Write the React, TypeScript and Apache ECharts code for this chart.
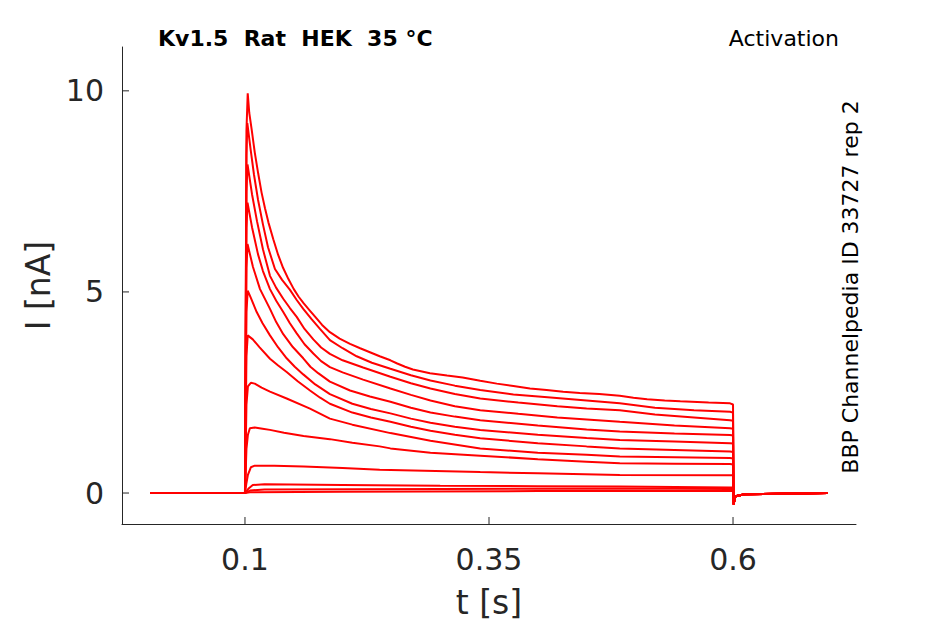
import React, { useEffect, useRef } from "react";
import * as echarts from "echarts";

// ---- data (t in s, I in nA) ----
const PRE: number[][] = [[0.003, 0], [0.1, 0]];
const POST: number[][] = [[0.6005, -0.28], [0.6025, -0.08], [0.612, -0.03], [0.697, 0]];

const T1 = [[0.1015, 9.0], [0.1028, 9.94], [0.1044, 9.45], [0.1069, 9.03], [0.110, 8.47], [0.1135, 7.95], [0.117, 7.47], [0.1205, 7.08], [0.124, 6.73], [0.129, 6.31], [0.134, 5.92], [0.139, 5.6], [0.1445, 5.32], [0.150, 5.07], [0.155, 4.88], [0.160, 4.72], [0.166, 4.55], [0.172, 4.38], [0.179, 4.18], [0.187, 4.0], [0.197, 3.84], [0.2076, 3.71], [0.218, 3.6], [0.228, 3.5], [0.238, 3.4], [0.249, 3.3], [0.256, 3.22], [0.264, 3.14], [0.272, 3.07], [0.2895, 2.98], [0.307, 2.92], [0.323, 2.87], [0.341, 2.79], [0.358, 2.72], [0.375, 2.66], [0.392, 2.6], [0.409, 2.56], [0.426, 2.52], [0.443, 2.49], [0.463, 2.46], [0.484, 2.42], [0.498, 2.37], [0.512, 2.33], [0.53, 2.3], [0.546, 2.28], [0.575, 2.25], [0.597, 2.23], [0.6, 2.2]];
const T2 = [[0.1015, 8.4], [0.1024, 9.2], [0.1058, 8.54], [0.1092, 7.92], [0.1133, 7.3], [0.1184, 6.68], [0.1236, 6.11], [0.1307, 5.57], [0.138, 5.3], [0.1461, 5.05], [0.153, 4.8], [0.1597, 4.58], [0.168, 4.33], [0.1768, 4.08], [0.187, 3.8], [0.2, 3.6], [0.2144, 3.4], [0.23, 3.24], [0.249, 3.09], [0.27, 2.93], [0.29, 2.8], [0.315, 2.67], [0.341, 2.56], [0.375, 2.45], [0.41, 2.38], [0.45, 2.3], [0.484, 2.23], [0.52, 2.12], [0.56, 2.06], [0.597, 2.02], [0.6, 2.0]];
const T3 = [[0.1015, 7.5], [0.1026, 8.17], [0.1072, 7.43], [0.1123, 6.76], [0.1184, 6.06], [0.1256, 5.4], [0.132, 5.1], [0.1392, 4.83], [0.146, 4.6], [0.153, 4.38], [0.161, 4.08], [0.17, 3.82], [0.178, 3.62], [0.187, 3.46], [0.2, 3.3], [0.221, 3.12], [0.249, 2.89], [0.27, 2.73], [0.29, 2.6], [0.315, 2.46], [0.341, 2.35], [0.38, 2.25], [0.42, 2.16], [0.45, 2.1], [0.484, 2.06], [0.52, 1.95], [0.56, 1.88], [0.597, 1.81], [0.6, 1.8]];
const T4 = [[0.1015, 6.6], [0.1026, 7.22], [0.1072, 6.61], [0.1133, 5.94], [0.1184, 5.52], [0.1256, 5.07], [0.132, 4.78], [0.1392, 4.5], [0.146, 4.22], [0.153, 3.97], [0.161, 3.7], [0.17, 3.47], [0.178, 3.28], [0.187, 3.13], [0.2, 3.0], [0.221, 2.82], [0.249, 2.6], [0.27, 2.44], [0.29, 2.3], [0.315, 2.16], [0.341, 2.06], [0.38, 1.97], [0.42, 1.88], [0.484, 1.77], [0.54, 1.68], [0.597, 1.61], [0.6, 1.6]];
const T5 = [[0.1015, 5.6], [0.1026, 6.19], [0.1082, 5.62], [0.1154, 5.07], [0.1256, 4.58], [0.132, 4.25], [0.1392, 3.95], [0.149, 3.63], [0.1597, 3.35], [0.167, 3.14], [0.175, 2.98], [0.187, 2.77], [0.2076, 2.55], [0.228, 2.4], [0.249, 2.27], [0.27, 2.12], [0.29, 2.0], [0.315, 1.9], [0.341, 1.81], [0.4, 1.68], [0.45, 1.58], [0.484, 1.53], [0.54, 1.48], [0.597, 1.44], [0.6, 1.43]];
const T6 = [[0.1015, 4.5], [0.1028, 5.03], [0.106, 4.85], [0.112, 4.5], [0.118, 4.22], [0.1256, 3.92], [0.134, 3.62], [0.1427, 3.35], [0.151, 3.14], [0.1597, 2.95], [0.172, 2.7], [0.187, 2.46], [0.21, 2.22], [0.229, 2.09], [0.249, 1.98], [0.27, 1.85], [0.29, 1.75], [0.315, 1.65], [0.341, 1.57], [0.4, 1.45], [0.45, 1.37], [0.484, 1.32], [0.54, 1.28], [0.597, 1.24], [0.6, 1.23]];
const T7 = [[0.1015, 3.4], [0.1028, 3.92], [0.108, 3.82], [0.115, 3.62], [0.1256, 3.34], [0.134, 3.17], [0.1427, 3.01], [0.154, 2.78], [0.1666, 2.55], [0.177, 2.37], [0.187, 2.22], [0.21, 2.0], [0.229, 1.88], [0.249, 1.77], [0.27, 1.65], [0.29, 1.55], [0.315, 1.45], [0.341, 1.36], [0.4, 1.24], [0.45, 1.16], [0.484, 1.11], [0.54, 1.07], [0.597, 1.03], [0.6, 1.02]];
const T8 = [[0.1015, 2.2], [0.103, 2.65], [0.106, 2.74], [0.11, 2.72], [0.117, 2.62], [0.1256, 2.52], [0.1427, 2.35], [0.1666, 2.1], [0.187, 1.85], [0.21, 1.7], [0.249, 1.49], [0.29, 1.3], [0.341, 1.11], [0.4, 1.0], [0.45, 0.95], [0.484, 0.91], [0.54, 0.89], [0.597, 0.87], [0.6, 0.86]];
const T9 = [[0.1015, 1.1], [0.103, 1.45], [0.105, 1.61], [0.11, 1.63], [0.118, 1.6], [0.1256, 1.57], [0.14, 1.5], [0.16, 1.42], [0.187, 1.34], [0.21, 1.25], [0.238, 1.16], [0.249, 1.11], [0.29, 1.0], [0.341, 0.93], [0.4, 0.84], [0.45, 0.78], [0.484, 0.74], [0.54, 0.73], [0.597, 0.72], [0.6, 0.71]];
const T10 = [[0.1015, 0.25], [0.103, 0.45], [0.106, 0.64], [0.11, 0.68], [0.13, 0.68], [0.16, 0.66], [0.2, 0.62], [0.238, 0.58], [0.341, 0.52], [0.4, 0.49], [0.484, 0.45], [0.597, 0.44], [0.6, 0.44]];
const T11 = [[0.104, 0.12], [0.108, 0.2], [0.12, 0.22], [0.2, 0.2], [0.3, 0.18], [0.4, 0.17], [0.484, 0.16], [0.597, 0.14], [0.6, 0.14]];
const T12 = [[0.105, 0.06], [0.12, 0.09], [0.3, 0.1], [0.484, 0.11], [0.597, 0.1], [0.6, 0.1]];
const T13 = [[0.105, 0.02], [0.2, 0.03], [0.4, 0.05], [0.597, 0.05], [0.6, 0.05]];

const TRACES = [T1, T2, T3, T4, T5, T6, T7, T8, T9, T10, T11, T12, T13];

const X_MIN = -0.026;
const X_MAX = 0.726;
const Y_MIN = -0.77;
const Y_MAX = 11.09;
const X_TICKS = [0.1, 0.35, 0.6];
const Y_TICKS = [0, 5, 10];

const TITLE = "Kv1.5  Rat  HEK  35 °C";
const PROTOCOL = "Activation";
const SOURCE = "BBP Channelpedia ID 33727 rep 2";

const FONT = "DejaVu Sans";
const INK = "#262626";
const TICK_LEN = 7;

export default function App() {
  const ref = useRef<HTMLDivElement>(null);
  useEffect(() => {
    document.body.style.margin = "0";
    const chart = echarts.init(ref.current!, null, { renderer: "svg" });
    const series = TRACES.map((tr, i) => ({
      type: "line" as const,
      name: "trace " + (i + 1),
      data: [...PRE, ...tr, ...POST],
      showSymbol: false,
      symbol: "none",
      lineStyle: { color: "#ff0000", width: 2 },
      itemStyle: { color: "#ff0000" },
      z: 2,
    }));
    const texts: any[] = [
      { type: "text", left: 158, top: 27, style: { text: TITLE, font: "bold 22px 'DejaVu Sans'", fill: "#000000" } },
      { type: "text", right: 106, top: 27, style: { text: PROTOCOL, font: "22px 'DejaVu Sans'", fill: "#000000" } },
      { type: "text", x: 850, y: 287, rotation: Math.PI / 2, style: { text: SOURCE, font: "22px 'DejaVu Sans'", fill: "#000000", align: "center", verticalAlign: "middle" } },
    ];
    chart.setOption({
      animation: false,
      backgroundColor: "#ffffff",
      grid: { left: 122, right: 89, top: 47, bottom: 98, containLabel: false },
      xAxis: {
        type: "value",
        min: X_MIN,
        max: X_MAX,
        name: "t [s]",
        nameLocation: "middle",
        nameGap: 62,
        nameTextStyle: { fontFamily: FONT, fontSize: 33, color: INK },
        axisLine: { show: true, onZero: false, lineStyle: { color: INK, width: 1 } },
        axisTick: { show: false },
        axisLabel: { customValues: X_TICKS, fontFamily: FONT, fontSize: 30, color: INK, margin: 20, formatter: (v: number) => String(v) },
        splitLine: { show: false },
      },
      yAxis: {
        type: "value",
        min: Y_MIN,
        max: Y_MAX,
        name: "I [nA]",
        nameLocation: "middle",
        nameGap: 66,
        nameRotate: 90,
        nameTextStyle: { fontFamily: FONT, fontSize: 33, color: INK },
        axisLine: { show: true, onZero: false, lineStyle: { color: INK, width: 1 } },
        axisTick: { show: false },
        axisLabel: { customValues: Y_TICKS, fontFamily: FONT, fontSize: 30, color: INK, margin: 18, formatter: (v: number) => String(v) },
        splitLine: { show: false },
      },
      graphic: texts,
      series,
    });
    // inward ticks placed through the chart's own scales
    const ticks: any[] = [];
    X_TICKS.forEach((v) => {
      const p = chart.convertToPixel({ gridIndex: 0 }, [v, Y_MIN]) as number[];
      ticks.push({ type: "line", shape: { x1: p[0], y1: p[1], x2: p[0], y2: p[1] - TICK_LEN }, style: { stroke: INK, lineWidth: 1 }, z: 10 });
    });
    Y_TICKS.forEach((v) => {
      const p = chart.convertToPixel({ gridIndex: 0 }, [X_MIN, v]) as number[];
      ticks.push({ type: "line", shape: { x1: p[0], y1: p[1], x2: p[0] + TICK_LEN, y2: p[1] }, style: { stroke: INK, lineWidth: 1 }, z: 10 });
    });
    chart.setOption({ graphic: [...texts, ...ticks] });
    return () => chart.dispose();
  }, []);
  return <div ref={ref} style={{ width: 945, height: 624 }} />;
}
